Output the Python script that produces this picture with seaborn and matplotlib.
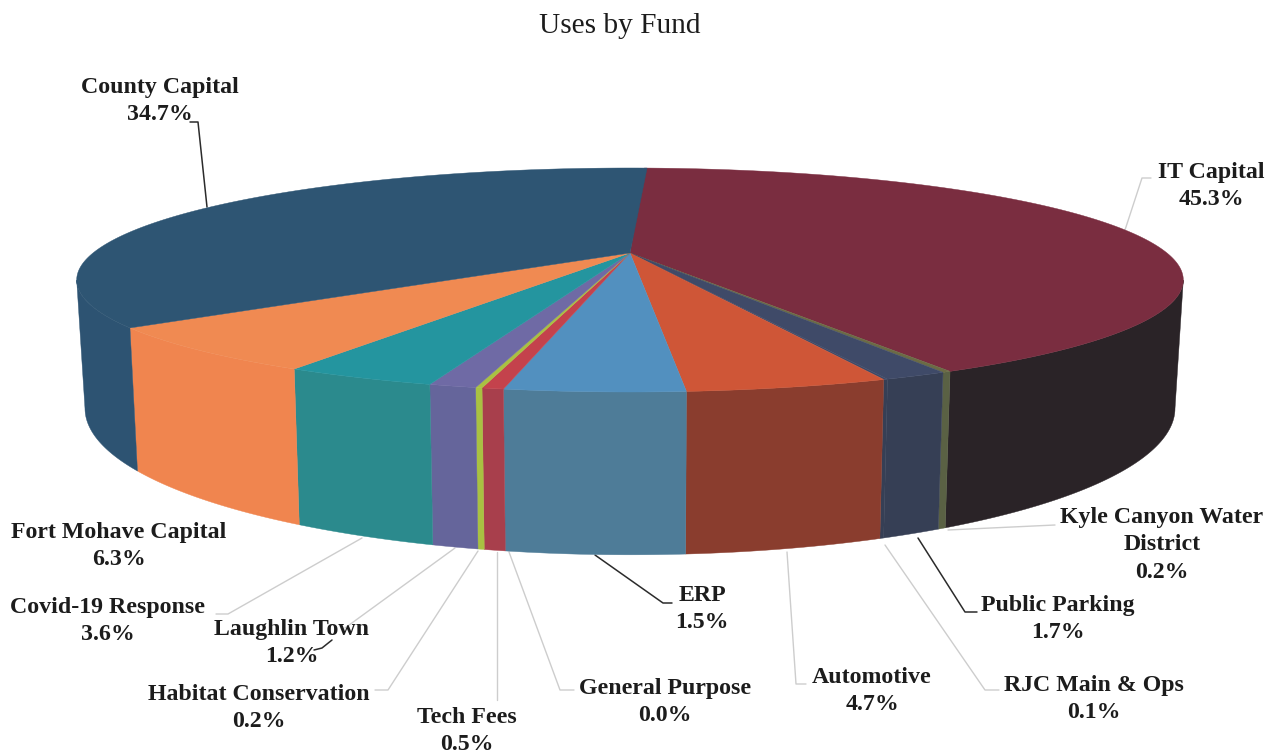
import numpy as np
import matplotlib
matplotlib.use('Agg')
import matplotlib.pyplot as plt
import seaborn as sns

# Funds clockwise from the top of the pie
funds = ['IT Capital', 'Kyle Canyon Water\nDistrict', 'Public Parking', 'RJC Main & Ops',
         'Automotive', 'ERP', 'Tech Fees', 'General Purpose', 'Habitat Conservation',
         'Laughlin Town', 'Covid-19 Response', 'Fort Mohave Capital', 'County Capital']
# percentages printed on the labels
printed_pct = [45.3, 0.2, 1.7, 0.1, 4.7, 1.5, 0.5, 0.0, 0.2, 1.2, 3.6, 6.3, 34.7]
# slice sizes as drawn in the picture (IT and ERP differ from their printed labels)
drawn_pct = [41.7, 0.2, 1.5, 0.1, 4.7, 4.15, 0.5, 0.0, 0.15, 1.1, 3.6, 6.4, 36.0]

top_colors = ['#7a2d40', '#6b6b45', '#3f4a68', '#3f4a68', '#cf5637', '#5290bf', '#c4424c',
              '#c4424c', '#a9c142', '#6f6aa5', '#24959f', '#f08a52', '#2e5573']
side_colors = ['#2a2327', '#5a6144', '#363f55', '#363f55', '#8a3d2e', '#4e7c98', '#a83f4c',
               '#a83f4c', '#a9c142', '#65659b', '#2b8a8d', '#f0854f', '#2d5372']

# label centres, pixels
label_x = [1211, 1162, 1058, 1094, 872, 702, 467, 665, 259, 292, 108, 119, 160]
label_y = [186, 545, 619, 699, 691, 609, 731, 702, 708, 643, 621, 546, 101]

# leader lines, pixels
leaders_gray = [[(1125, 230), (1142, 178), (1151, 178)],
                [(948, 530), (1055, 525)],
                [(885, 545), (985, 690), (999, 690)],
                [(787, 552), (796, 684), (806, 684)],
                [(509, 552), (560, 690), (574, 690)],
                [(497, 552), (497, 700)],
                [(478, 551), (388, 690), (375, 690)],
                [(455, 548), (345, 628)],
                [(362, 538), (228, 614), (216, 614)]]
leaders_black = [[(207, 207), (198, 122), (190, 122)],
                 [(595, 555), (663, 603), (672, 603)],
                 [(918, 538), (965, 612), (977, 612)],
                 [(332, 640), (322, 648), (314, 650)]]

sns.set_theme(style='white')
plt.rcParams['font.family'] = ['Liberation Serif', 'DejaVu Serif']

HUB_X = 630
A, K = 537, 0.241


def rim(theta, y0, b, scale=1.0):
    # perspective circle: theta in degrees clockwise from the back of the pie
    t = np.radians(theta)
    u, v = np.sin(t), -np.cos(t)
    w = 1 - K * v
    return HUB_X + scale * A * u / w, y0 + b * v / w


fig, ax = plt.subplots(figsize=(12.76, 7.55), dpi=100)
fig.subplots_adjust(0, 0, 1, 1)
ax.set_xlim(0, 1276)
ax.set_ylim(755, 0)
ax.axis('off')

edges = 1.9 + np.cumsum([0] + drawn_pct) * 3.6

# rim faces first, only the part facing the viewer
for i in range(len(funds)):
    a, b = max(edges[i], 104), min(edges[i + 1], 256)
    if b <= a:
        continue
    th = np.linspace(a, b, 80)
    x1, y1 = rim(th, 253, 105.5)
    x2, y2 = rim(th[::-1], 373, 138, 0.985)
    ax.fill(np.r_[x1, x2], np.r_[y1, y2], color=side_colors[i], lw=0.3, zorder=2)

# top faces
for i in range(len(funds)):
    if drawn_pct[i] == 0:
        continue
    th = np.linspace(edges[i], edges[i + 1], 200)
    x, y = rim(th, 253, 105.5)
    ax.fill(np.r_[HUB_X, x], np.r_[253, y], color=top_colors[i], lw=0.3, zorder=3)

for pts in leaders_gray:
    xs, ys = zip(*pts)
    ax.plot(xs, ys, color='#cdcdcd', lw=1.0, zorder=1)
for pts in leaders_black:
    xs, ys = zip(*pts)
    ax.plot(xs, ys, color='#2b2b2b', lw=1.1, zorder=1)

for name, pct, lx, ly in zip(funds, printed_pct, label_x, label_y):
    ax.text(lx, ly, f'{name}\n{pct:.1f}%', ha='center', va='center', fontsize=17.2,
            fontweight='bold', color='#1c1c1c', linespacing=1.38, zorder=5)

ax.text(620, 26, 'Uses by Fund', ha='center', va='center', fontsize=21.2, color='#1c1c1c')

fig.savefig('out.png', dpi=100, facecolor='white')
